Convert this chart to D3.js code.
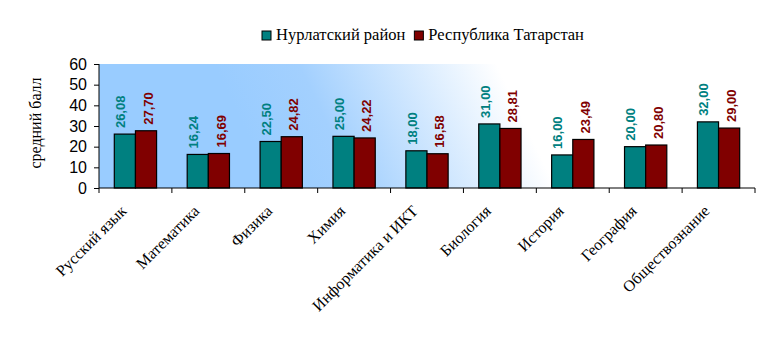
<!DOCTYPE html>
<html><head><meta charset="utf-8">
<script src="https://cdn.jsdelivr.net/npm/d3@7"></script>
<style>body{margin:0;background:#fff}</style>
</head><body>
<svg id="c" width="774" height="343"></svg>
<script>
const categories = ["Русский язык","Математика","Физика","Химия","Информатика и ИКТ","Биология","История","География","Обществознание"];
const seriesNames = ["Нурлатский район","Республика Татарстан"];
const nurlat = [26.08,16.24,22.50,25.00,18.00,31.00,16.00,20.00,32.00];
const tatarstan = [27.70,16.69,24.82,24.22,16.58,28.81,23.49,20.80,29.00];
const yTicks = [0,10,20,30,40,50,60];
const colors = ["#008080","#800000"];

const svg = d3.select("#c");
const L=99, R=755, T=64, B=188;
const x = d3.scaleBand().domain(categories).range([L,R]).paddingInner(0.42).paddingOuter(0.21);
const x1 = d3.scaleBand().domain([0,1]).range([0,x.bandwidth()]);
const y = d3.scaleLinear().domain([0,60]).range([B,T]);

const defs = svg.append("defs");
const g = defs.append("linearGradient").attr("id","bg").attr("gradientUnits","userSpaceOnUse")
  .attr("x1",255).attr("y1",150).attr("x2",485).attr("y2",40);
g.append("stop").attr("offset",0).attr("stop-color","#99ccff");
g.append("stop").attr("offset",0.3).attr("stop-color","#a3d0fe");
g.append("stop").attr("offset",1).attr("stop-color","#ffffff");
svg.append("rect").attr("x",L).attr("y",T).attr("width",R-L).attr("height",B-T).attr("fill","url(#bg)");

const data = [nurlat, tatarstan];
const fmt = v => v.toFixed(2).replace(".",",");
data.forEach((vals,si)=>{
  svg.append("g").selectAll("rect").data(vals).join("rect")
    .attr("x",(d,i)=>x(categories[i])+x1(si))
    .attr("y",d=>y(d)).attr("width",x1.bandwidth()).attr("height",d=>B-y(d))
    .attr("fill",colors[si]).attr("stroke","#000").attr("stroke-width",1.2);
  svg.append("g").selectAll("text").data(vals).join("text")
    .attr("transform",(d,i)=>{
      const cx = x(categories[i])+x1(si)+x1.bandwidth()/2 + (si===0?-4.5:2);
      return `translate(${cx},${y(d)-6}) rotate(-90)`;
    })
    .attr("dy","0.36em")
    .attr("font-family","Liberation Sans, Arial, sans-serif").attr("font-weight","bold")
    .attr("font-size","13px").attr("fill",colors[si])
    .text(d=>fmt(d));
});

// Y axis
const ya = svg.append("g").attr("transform",`translate(${L},0)`)
  .call(d3.axisLeft(y).tickValues(yTicks).tickSize(5).tickPadding(7).tickFormat(d3.format("d")));
ya.select(".domain").attr("stroke","#000").attr("d",`M0,${B}V${T}`);
ya.selectAll("text").attr("font-family","Liberation Sans, Arial, sans-serif").attr("font-size","16px").attr("fill","#000");
ya.selectAll(".tick line").attr("stroke","#000");

// X axis line + boundary ticks
svg.append("line").attr("x1",L).attr("x2",R).attr("y1",B).attr("y2",B).attr("stroke","#000");
const step = x.step();
const bounds = categories.map(c=>x(c)-(step-x.bandwidth())/2).concat([R]);
svg.append("g").selectAll("line").data(bounds).join("line")
  .attr("x1",d=>d).attr("x2",d=>d).attr("y1",B).attr("y2",B+5).attr("stroke","#000");

// category labels
svg.append("g").selectAll("text").data(categories).join("text")
  .attr("transform",c=>`translate(${x(c)+x.bandwidth()/2-8},212) rotate(-45)`)
  .attr("text-anchor","end")
  .attr("font-family","Liberation Serif, Times New Roman, serif").attr("font-size","16px").attr("fill","#000")
  .text(c=>c);

// axis title
svg.append("text").attr("transform","translate(35,123) rotate(-90)")
  .attr("text-anchor","middle").attr("dy","0.35em")
  .attr("font-family","Liberation Serif, Times New Roman, serif").attr("font-size","16px").text("средний балл");

// legend
const lg = svg.append("g");
let lx = 262;
seriesNames.forEach((n,i)=>{
  lg.append("rect").attr("x",lx).attr("y",31).attr("width",9).attr("height",9)
    .attr("fill",colors[i]).attr("stroke","#000").attr("stroke-width",1);
  const t = lg.append("text").attr("x",lx+14).attr("y",40)
    .attr("font-family","Liberation Serif, Times New Roman, serif").attr("font-size","16.5px").text(n);
  lx += 14 + t.node().getComputedTextLength() + 9;
});
</script>
</body></html>
